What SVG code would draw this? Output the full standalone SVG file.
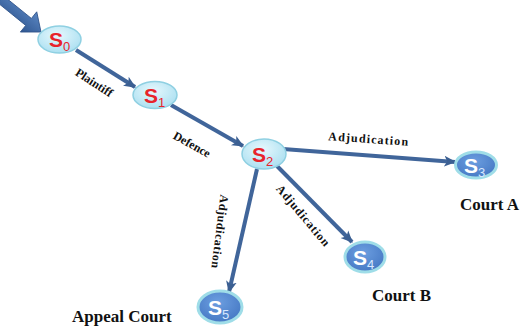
<svg xmlns="http://www.w3.org/2000/svg" width="524" height="329" viewBox="0 0 524 329">
<defs>
<radialGradient id="gl" cx="0.45" cy="0.35" r="0.7">
<stop offset="0" stop-color="#e6f8fd"/>
<stop offset="1" stop-color="#a8def0"/>
</radialGradient>
<radialGradient id="gb" cx="0.45" cy="0.35" r="0.7">
<stop offset="0" stop-color="#6c9ee0"/>
<stop offset="1" stop-color="#4376c2"/>
</radialGradient>
<linearGradient id="ga" x1="0" y1="0" x2="0" y2="1">
<stop offset="0" stop-color="#5a86c2"/>
<stop offset="1" stop-color="#2f5690"/>
</linearGradient>
<marker id="ah" viewBox="0 0 10 10" refX="9" refY="5" markerWidth="3" markerHeight="3" orient="auto" markerUnits="strokeWidth">
<path d="M0,0.5 L10,5 L0,9.5 L2.5,5 z" fill="#3b5f92"/>
</marker>
</defs>
<style>
.edge{stroke:#40659a;stroke-width:4;fill:none;marker-end:url(#ah)}
.nl{fill:url(#gl);stroke:#8fd0e2;stroke-width:1.5}
.nb{fill:url(#gb);stroke:#9fdde8;stroke-width:3}
.sr{font-family:"Liberation Sans",Arial,sans-serif;font-weight:bold;font-size:21px;fill:#e8232b}
.subr{font-family:"Liberation Sans",Arial,sans-serif;font-size:13px;fill:#e8232b}
.sw{font-family:"Liberation Sans",Arial,sans-serif;font-weight:bold;font-size:21px;fill:#ffffff}
.subw{font-family:"Liberation Sans",Arial,sans-serif;font-size:13px;fill:#d8e8ff}
.el{font-family:"Liberation Serif","Times New Roman",serif;font-weight:bold;font-size:12px;fill:#111}
.cl{font-family:"Liberation Serif","Times New Roman",serif;font-weight:bold;font-size:17px;fill:#111}
</style>
<g id="start">
<g transform="translate(41,32) rotate(39)">
<polygon points="0,0 -16,-13 -16,-4.5 -52,-4.5 -52,4.5 -16,4.5 -16,13" fill="url(#ga)" stroke="#2d5088" stroke-width="0.8"/>
</g>
</g>
<g id="connectors">
<line class="edge" x1="76" y1="50" x2="135" y2="87"/>
<line class="edge" x1="171" y1="105" x2="243" y2="146"/>
<line class="edge" x1="283" y1="149" x2="455" y2="162"/>
<line class="edge" x1="277" y1="166" x2="352" y2="242"/>
<line class="edge" x1="257" y1="169" x2="229" y2="292"/>
<text class="el" transform="translate(92,86) rotate(33)" text-anchor="middle">Plaintiff</text>
<text class="el" transform="translate(190,148) rotate(29)" text-anchor="middle">Defence</text>
<text class="el" transform="translate(368,143) rotate(4)" text-anchor="middle" textLength="80" lengthAdjust="spacing">Adjudication</text>
<text class="el" transform="translate(300,218) rotate(50)" text-anchor="middle" textLength="76" lengthAdjust="spacing">Adjudication</text>
<text class="el" transform="translate(216,231) rotate(97)" text-anchor="middle" textLength="74" lengthAdjust="spacing">Adjudication</text>
</g>
<g id="S0">
<ellipse class="nl" cx="59.5" cy="39.5" rx="21.5" ry="13.5"/>
<text class="sr" x="49" y="47">S</text><text class="subr" x="63" y="51">0</text>
</g>
<g id="S1">
<ellipse class="nl" cx="155" cy="95" rx="22" ry="13.5"/>
<text class="sr" x="144" y="103">S</text><text class="subr" x="158" y="107">1</text>
</g>
<g id="S2">
<ellipse class="nl" cx="264" cy="154" rx="22" ry="15"/>
<text class="sr" x="252" y="162">S</text><text class="subr" x="266" y="166">2</text>
</g>
<g id="S3">
<ellipse class="nb" cx="476" cy="165" rx="20.5" ry="13"/>
<text class="sw" x="464" y="173">S</text><text class="subw" x="478" y="177">3</text>
</g>
<g id="S4">
<ellipse class="nb" cx="365" cy="257" rx="20" ry="15"/>
<text class="sw" x="353" y="265">S</text><text class="subw" x="367" y="269">4</text>
</g>
<g id="S5">
<ellipse class="nb" cx="220" cy="307" rx="22" ry="16"/>
<text class="sw" x="208" y="315">S</text><text class="subw" x="222" y="319">5</text>
</g>
<text class="cl" x="460" y="210">Court A</text>
<text class="cl" x="372" y="301">Court B</text>
<text class="cl" x="72" y="322">Appeal Court</text>
</svg>
